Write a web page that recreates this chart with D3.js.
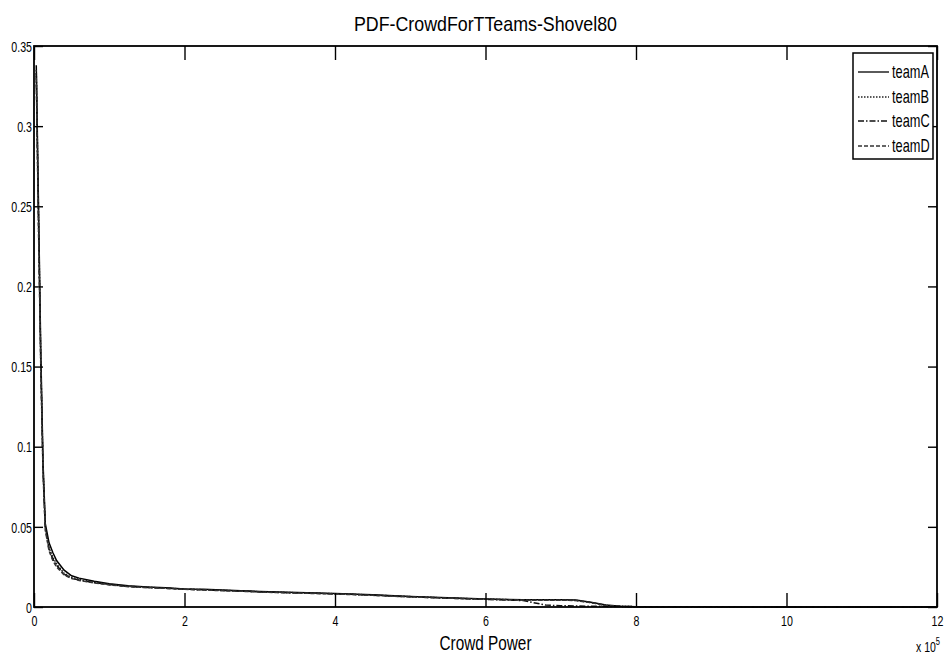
<!DOCTYPE html>
<html>
<head>
<meta charset="utf-8">
<script src="https://cdn.jsdelivr.net/npm/d3@7"></script>
<style>
body { margin: 0; background: #fff; }
svg text { font-family: "Liberation Sans", Arial, Helvetica, sans-serif; fill: #000; }
</style>
</head>
<body>
<div class="container"></div>
<script>
// x values in units of 1e5 (Crowd Power)
var xs = [0.03, 0.06, 0.09, 0.12, 0.15, 0.2, 0.25, 0.3, 0.4, 0.5, 0.6, 0.8, 1.0, 1.25, 1.5, 1.75, 2.0, 2.25, 2.5, 2.75, 3.0, 3.5, 4.0, 4.5, 5.0, 5.5, 6.0, 6.5, 6.8, 7.0, 7.2, 7.4, 7.6, 7.8, 8.0, 8.5, 9.0, 9.5, 10.0, 10.5, 11.0, 12.0];
var teamA = [0.338, 0.25, 0.16, 0.09, 0.052, 0.040, 0.034, 0.029, 0.023, 0.0195, 0.018, 0.016, 0.0145, 0.0132, 0.0125, 0.0120, 0.0113, 0.0110, 0.0106, 0.0102, 0.0097, 0.0090, 0.0085, 0.0076, 0.0066, 0.0057, 0.0050, 0.0045, 0.0045, 0.0046, 0.0043, 0.0030, 0.0012, 0.0004, 0.0002, 0.0001, 0.0001, 0.00005, 0.00005, 0.0, 0.0, 0.0];
var teamB = [0.335, 0.245, 0.155, 0.088, 0.050, 0.037, 0.031, 0.027, 0.021, 0.0185, 0.0172, 0.0155, 0.0142, 0.0130, 0.0123, 0.0118, 0.0112, 0.0108, 0.0104, 0.0100, 0.0095, 0.0089, 0.0083, 0.0075, 0.0065, 0.0056, 0.0049, 0.0044, 0.0043, 0.0044, 0.0041, 0.0028, 0.0010, 0.0004, 0.0002, 0.0001, 0.0001, 0.0001, 0.00005, 0.00005, 0.0, 0.0];
var teamC = [0.333, 0.24, 0.152, 0.085, 0.049, 0.036, 0.030, 0.026, 0.0205, 0.018, 0.0168, 0.0152, 0.0140, 0.0128, 0.0122, 0.0117, 0.0111, 0.0107, 0.0103, 0.0099, 0.0094, 0.0088, 0.0082, 0.0074, 0.0064, 0.0055, 0.0048, 0.0040, 0.0012, 0.0008, 0.0006, 0.0005, 0.0004, 0.0003, 0.0002, 0.0001, 0.0001, 0.00005, 0.00005, 0.0, 0.0, 0.0];
var teamD = [0.330, 0.235, 0.15, 0.084, 0.048, 0.035, 0.029, 0.025, 0.020, 0.0178, 0.0166, 0.0150, 0.0138, 0.0127, 0.0121, 0.0116, 0.0110, 0.0106, 0.0102, 0.0098, 0.0093, 0.0087, 0.0081, 0.0073, 0.0063, 0.0055, 0.0048, 0.0043, 0.0042, 0.0043, 0.0040, 0.0027, 0.0010, 0.0004, 0.0002, 0.0001, 0.0001, 0.0001, 0.00005, 0.00005, 0.0, 0.0];
var teamNames = ["teamA", "teamB", "teamC", "teamD"];
var xTicks = [0, 2, 4, 6, 8, 10, 12];
var yTicks = [0, 0.05, 0.1, 0.15, 0.2, 0.25, 0.3, 0.35];
var yTickLabels = ["0", "0.05", "0.1", "0.15", "0.2", "0.25", "0.3", "0.35"];

var W = 947, H = 659;
var left = 34, right = 937, top_ = 46, bottom = 607;
var K = 0.71; // horizontal squeeze, the original font is a narrow one

var dashes = [null, "1.5,1.5", "6,2,1.5,2", "4,2"];
var strokes = ["#000", "#222", "#111", "#333"];

// squeeze text horizontally, keeping its x anchor
function narrow(sel, k) {
	sel.each(function() {
		var t = d3.select(this);
		var x0 = +t.attr("x") || 0;
		t.attr("x", x0 / k).attr("transform", "scale(" + k + ",1)");
	});
}

var svg = d3.select(".container").append("svg")
	.attr("width", W).attr("height", H);

var x = d3.scaleLinear().domain([0, 12]).range([left, right]);
var y = d3.scaleLinear().domain([0, 0.35]).range([bottom, top_]);

// curves
var series = [teamA, teamB, teamC, teamD];
var line = d3.line()
	.x(function(d, i) { return x(xs[i]); })
	.y(function(d) { return y(d); });

svg.append("g").selectAll("path.curve")
	.data(series)
	.enter().append("path")
	.attr("class", "curve")
	.attr("d", line)
	.attr("fill", "none")
	.attr("stroke", function(d, i) { return strokes[i]; })
	.attr("stroke-width", 1.5)
	.attr("stroke-dasharray", function(d, i) { return dashes[i]; });

// axes (inward ticks on all four sides)
var xAxis = svg.append("g").attr("transform", "translate(0," + bottom + ")")
	.call(d3.axisBottom(x).tickValues(xTicks).tickSizeInner(-14).tickSizeOuter(0).tickPadding(8).tickFormat(d3.format("d")));
var xAxisTop = svg.append("g").attr("transform", "translate(0," + top_ + ")")
	.call(d3.axisTop(x).tickValues(xTicks).tickSizeInner(-14).tickSizeOuter(0).tickFormat(""));
var yAxis = svg.append("g").attr("transform", "translate(" + left + ",0)")
	.call(d3.axisLeft(y).tickValues(yTicks).tickSizeInner(-9).tickSizeOuter(0).tickPadding(2)
		.tickFormat(function(d, i) { return yTickLabels[i]; }));
var yAxisRight = svg.append("g").attr("transform", "translate(" + right + ",0)")
	.call(d3.axisRight(y).tickValues(yTicks).tickSizeInner(-9).tickSizeOuter(0).tickFormat(""));

[xAxis, xAxisTop, yAxis, yAxisRight].forEach(function(g) {
	g.select(".domain").remove();
	g.selectAll(".tick line").attr("stroke", "#000").attr("stroke-width", 1.4);
	g.selectAll(".tick text").attr("font-size", 15).attr("fill", "#000");
});
yAxis.selectAll(".tick text").attr("dy", "0.35em");
narrow(xAxis.selectAll(".tick text"), K);
narrow(yAxis.selectAll(".tick text"), K);

// box
svg.append("rect")
	.attr("x", left).attr("y", top_)
	.attr("width", right - left).attr("height", bottom - top_)
	.attr("fill", "none").attr("stroke", "#000").attr("stroke-width", 1.8);

// title and labels
svg.append("text").attr("x", (left + right) / 2).attr("y", 31)
	.attr("text-anchor", "middle").attr("font-size", 21)
	.attr("textLength", 263).attr("lengthAdjust", "spacingAndGlyphs")
	.text("PDF-CrowdForTTeams-Shovel80");
svg.append("text").attr("x", (left + right) / 2).attr("y", 650)
	.attr("text-anchor", "middle").attr("font-size", 20)
	.attr("textLength", 92).attr("lengthAdjust", "spacingAndGlyphs")
	.text("Crowd Power");
var expo = svg.append("text").attr("x", 916).attr("y", 652).attr("font-size", 14);
expo.append("tspan").text("x 10");
expo.append("tspan").attr("dy", -7).attr("font-size", 10).text("5");
narrow(expo, 0.75);

// legend
var lg = svg.append("g");
lg.append("rect").attr("x", 853).attr("y", 53).attr("width", 80).attr("height", 106)
	.attr("fill", "#fff").attr("stroke", "#000").attr("stroke-width", 1.5);
var ly = [72, 97, 121, 146];
var items = lg.selectAll("g.item").data(teamNames).enter().append("g").attr("class", "item")
	.attr("transform", function(d, i) { return "translate(0," + ly[i] + ")"; });
items.append("line").attr("x1", 858).attr("x2", 889).attr("y1", 0).attr("y2", 0)
	.attr("stroke", function(d, i) { return strokes[i]; })
	.attr("stroke-width", 1.3)
	.attr("stroke-dasharray", function(d, i) { return dashes[i]; });
var ltext = items.append("text").attr("x", 892).attr("y", 0).attr("dy", "0.35em")
	.attr("font-size", 18).text(function(d) { return d; });
narrow(ltext, K);
</script>
</body>
</html>
